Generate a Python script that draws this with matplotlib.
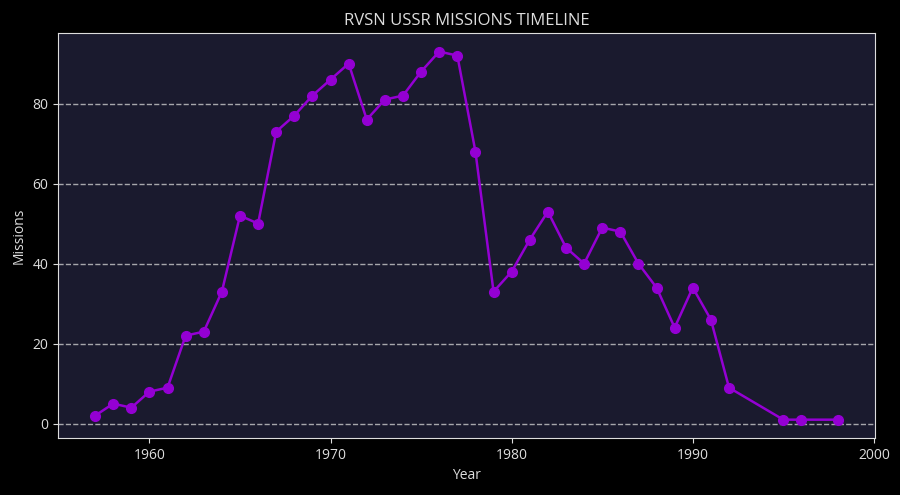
import matplotlib
matplotlib.use("Agg")
import matplotlib.pyplot as plt

years = [1957, 1958, 1959, 1960, 1961, 1962, 1963, 1964, 1965, 1966, 1967, 1968,
         1969, 1970, 1971, 1972, 1973, 1974, 1975, 1976, 1977, 1978, 1979, 1980,
         1981, 1982, 1983, 1984, 1985, 1986, 1987, 1988, 1989, 1990, 1991, 1992,
         1995, 1996, 1998]
missions = [2, 5, 4, 8, 9, 22, 23, 33, 52, 50, 73, 77,
            82, 86, 90, 76, 81, 82, 88, 93, 92, 68, 33, 38,
            46, 53, 44, 40, 49, 48, 40, 34, 24, 34, 26, 9,
            1, 1, 1]

plt.rcParams['font.family'] = ['Open Sans', 'DejaVu Sans']

fig = plt.figure(figsize=(9, 4.95), dpi=100, facecolor='black')
ax = fig.add_axes([0.0644, 0.115, 0.9076, 0.818])
ax.set_facecolor('#1a1a2e')

ax.plot(years, missions, color='#9400D3', marker='o', markersize=7, linewidth=1.8)

ax.grid(axis='y', linestyle='--', color='#cccccc', alpha=0.8, linewidth=1)
ax.set_axisbelow(True)

for s in ax.spines.values():
    s.set_color('#dddddd')
ax.tick_params(colors='#dddddd', labelsize=10)
ax.set_xticks([1960, 1970, 1980, 1990, 2000])
ax.set_yticks([0, 20, 40, 60, 80])

ax.set_title('RVSN USSR MISSIONS TIMELINE', color='#dddddd', fontsize=12)
ax.set_xlabel('Year', color='#dddddd', fontsize=10)
ax.set_ylabel('Missions', color='#dddddd', fontsize=10)

fig.savefig('out.png', dpi=100, facecolor='black')
